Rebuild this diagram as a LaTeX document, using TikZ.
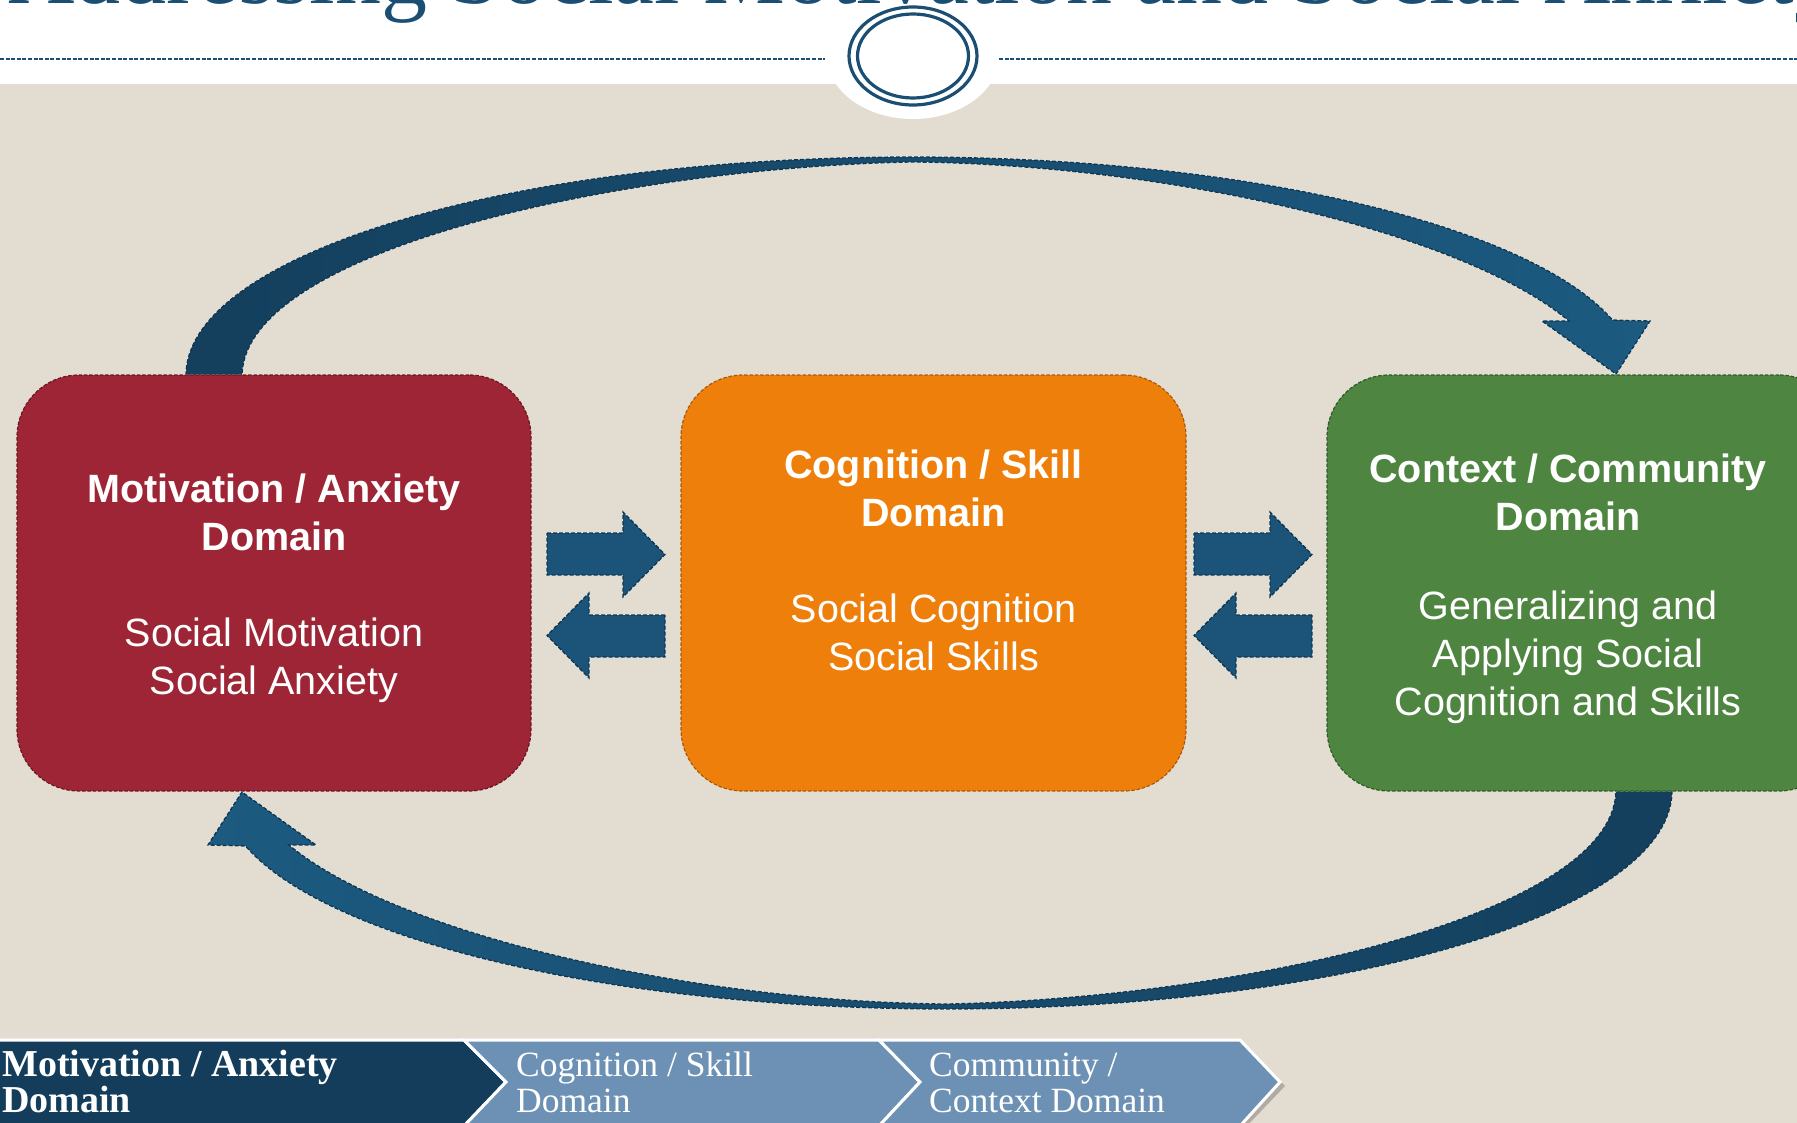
\documentclass[tikz,border=0pt]{standalone}
\usepackage{fontspec}
\setmainfont{Liberation Sans}
\newfontfamily\serifttl{Liberation Serif}
\definecolor{bgbeige}{HTML}{E3DDD1}
\definecolor{titleblue}{HTML}{1A4E72}
\definecolor{boxred}{HTML}{9D2535}
\definecolor{boxreddark}{HTML}{6A1520}
\definecolor{boxorange}{HTML}{EE7F0B}
\definecolor{boxorangedark}{HTML}{A8580A}
\definecolor{boxgreen}{HTML}{4E8540}
\definecolor{boxgreendark}{HTML}{2F5A27}
\definecolor{arrowblue}{HTML}{1B5478}
\definecolor{arrowdark}{HTML}{0E3650}
\definecolor{arcdark}{HTML}{143F5D}
\definecolor{arclight}{HTML}{1C5A80}
\definecolor{chevdark}{HTML}{133D5A}
\definecolor{chevlight}{HTML}{6C91B4}
\colorlet{gapcol}{white!70!bgbeige}
\newcommand\curvedarrowpath[3]{%
  ({#1+#3*186},{#2+#3*375})
  -- plot[variable=\t, domain=180:345.4, samples=90] ({#1+#3*(911+725*cos(\t))},{#2+#3*(375+218*sin(\t))})
  -- ({#1+#3*1650},{#2+#3*321})
  -- ({#1+#3*1616},{#2+#3*374})
  -- ({#1+#3*1542},{#2+#3*321})
  -- ({#1+#3*1569},{#2+#3*321})
  .. controls ({#1+#3*1460},{#2+#3*230}) and ({#1+#3*1160},{#2+#3*164}) .. ({#1+#3*911},{#2+#3*162})
  .. controls ({#1+#3*620},{#2+#3*168}) and ({#1+#3*245},{#2+#3*250}) .. ({#1+#3*242},{#2+#3*375})
  -- cycle}
\tikzset{
  domainbox/.style={rounded corners=62pt, line width=1.2pt, dash pattern=on 3.5pt off 1.8pt,
     preaction={draw=gapcol, line width=1.2pt, rounded corners=62pt}, inner sep=0pt},
  blockarrow/.style={fill=arrowblue, draw=arrowdark, line width=1.3pt, dash pattern=on 4pt off 2pt,
     preaction={draw=gapcol, line width=1.3pt}},
  arcarrow/.style={draw=arrowdark, line width=1.3pt, dash pattern=on 4pt off 2pt,
     preaction={draw=gapcol, line width=1.3pt}},
  boxtitle/.style={text=white, font=\bfseries\fontsize{39.5}{48}\selectfont, align=center, inner sep=0pt},
  boxbody/.style={text=white, font=\fontsize{39.5}{48}\selectfont, align=center, inner sep=0pt},
  chevtext/.style={text=white, font=\serifttl\fontsize{35.5}{36}\selectfont, align=left, anchor=base west, inner sep=0pt},
  chevshape/.style={draw=white, line width=3pt, line join=miter},
}
\begin{document}
\begin{tikzpicture}[x=1pt,y=-1pt]
\useasboundingbox (0,0) rectangle (1797,1123);
\begin{scope}
\clip (0,0) rectangle (1797,1123);
% background
\fill[bgbeige] (0,0) rectangle (1797,1123);
\fill[white] (0,0) rectangle (1797,84);
\fill[white] (913,56) ellipse [x radius=86, y radius=63];
% title (cut off at the top)
\node[anchor=base west, text=titleblue, font=\serifttl\fontsize{92}{92}\selectfont, inner sep=0pt] (title) at (8,4) {Addressing Social Motivation and Social Anxiety};
% dashed rule and emblem
\coordinate (ruleL0) at (0,59);
\coordinate (ruleL1) at (825,59);
\coordinate (ruleR0) at (999,59);
\coordinate (ruleR1) at (1797,59);
\draw[titleblue, line width=2pt, dash pattern=on 4pt off 1.6pt] (ruleL0) -- (ruleL1);
\draw[titleblue, line width=2pt, dash pattern=on 4pt off 1.6pt] (ruleR0) -- (ruleR1);
\draw[titleblue, line width=3.2pt] (913,56) ellipse [x radius=64, y radius=49];
\draw[titleblue, line width=3.2pt] (913,56) ellipse [x radius=55.5, y radius=42];
% curved arrows
\path[arcarrow, left color=arcdark, right color=arclight] \curvedarrowpath{0}{0}{1};
\path[arcarrow, left color=arclight, right color=arcdark] \curvedarrowpath{1858}{1166}{(-1)};
% domain boxes
\node[domainbox, fill=boxred, draw=boxreddark, minimum width=514pt, minimum height=416pt] (motiv) at (274,583) {};
\node[domainbox, fill=boxorange, draw=boxorangedark, minimum width=505pt, minimum height=416pt] (cogn) at (933.5,583) {};
\node[domainbox, fill=boxgreen, draw=boxgreendark, minimum width=514pt, minimum height=416pt] (ctx) at (1584,583) {};
% box texts
\node[boxtitle] (motivT) at (274,512) {Motivation / Anxiety\\Domain};
\node[boxbody] (motivB) at (274,660) {Social Motivation\\Social Anxiety};
\node[boxtitle] (cognT) at (933.5,488) {Cognition / Skill\\Domain};
\node[boxbody] (cognB) at (933.5,632) {Social Cognition\\Social Skills};
\node[boxtitle] (ctxT) at (1568,492) {Context / Community\\Domain};
\node[boxbody] (ctxB) at (1568,657) {Generalizing and\\Applying Social\\Cognition and Skills};
% block arrows between the boxes
\draw[blockarrow] (547,533) -- (623,533) -- (623,512) -- (665,554.5) -- (623,597) -- (623,575) -- (547,575) -- cycle;
\draw[blockarrow] (665,615) -- (589,615) -- (589,593) -- (547,635.5) -- (589,678) -- (589,657) -- (665,657) -- cycle;
\draw[blockarrow] (1194,533) -- (1270,533) -- (1270,512) -- (1312,554.5) -- (1270,597) -- (1270,575) -- (1194,575) -- cycle;
\draw[blockarrow] (1312,615) -- (1236,615) -- (1236,593) -- (1194,635.5) -- (1236,678) -- (1236,657) -- (1312,657) -- cycle;
% bottom chevron bar
\fill[black, opacity=0.22] (884,1044) -- (1245,1044) -- (1285,1086) -- (1245,1128) -- (884,1128) -- cycle;
\path[chevshape, fill=chevdark] (-5,1040) -- (464,1040) -- (506,1082) -- (464,1126) -- (-5,1126) -- cycle;
\path[chevshape, fill=chevlight] (464,1040) -- (879,1040) -- (920,1082) -- (879,1126) -- (464,1126) -- (506,1082) -- cycle;
\path[chevshape, fill=chevlight] (879,1040) -- (1240,1040) -- (1280,1082) -- (1240,1126) -- (879,1126) -- (920,1082) -- cycle;
\node[chevtext, font=\serifttl\bfseries\fontsize{38}{36}\selectfont] (chev1) at (2,1112) {Motivation / Anxiety\\Domain};
\node[chevtext] (chev2) at (516,1112) {Cognition / Skill\\Domain};
\node[chevtext] (chev3) at (929,1112) {Community /\\Context Domain};
\end{scope}
\end{tikzpicture}
\end{document}
